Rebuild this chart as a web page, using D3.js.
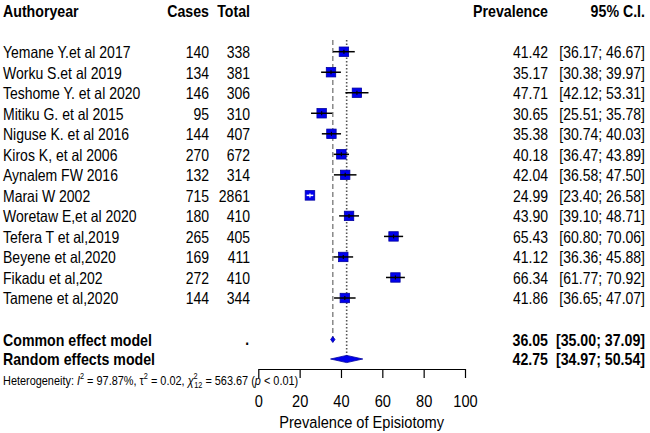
<!DOCTYPE html>
<html><head><meta charset="utf-8">
<script src="https://cdn.jsdelivr.net/npm/d3@7"></script>
<style>body{margin:0;background:#fff}svg{display:block}text{font-family:"Liberation Sans",Arial,sans-serif}</style>
</head><body><svg id="c" width="650" height="433"></svg>
<script>
const studies = ["Yemane Y.et al 2017","Worku S.et al 2019","Teshome Y. et al 2020","Mitiku G. et al 2015","Niguse K. et al 2016","Kiros K, et al 2006","Aynalem FW 2016","Marai W 2002","Woretaw E,et al 2020","Tefera T et al,2019","Beyene et al,2020","Fikadu et al,202","Tamene et al,2020"];
const cases = [140,134,146,95,144,270,132,715,180,265,169,272,144];
const totals = [338,381,306,310,407,672,314,2861,410,405,411,410,344];
const prev = [41.42,35.17,47.71,30.65,35.38,40.18,42.04,24.99,43.90,65.43,41.12,66.34,41.86];
const lower = [36.17,30.38,42.12,25.51,30.74,36.47,36.58,23.40,39.10,60.80,36.36,61.77,36.65];
const upper = [46.67,39.97,53.31,35.78,40.03,43.89,47.50,26.58,48.71,70.06,45.88,70.92,47.07];
const weights = [7.7,7.7,7.6,7.7,7.7,7.8,7.6,7.9,7.7,7.7,7.7,7.7,7.7];
const models = ["Common effect model","Random effects model"];
const modelEst = [36.05,42.75];
const modelLow = [35.00,34.97];
const modelUp = [37.09,50.54];
const ticks = [0,20,40,60,80,100];

const SX = 0.86; // narrow (Arial Narrow-like) text
const svg = d3.select("#c");
const x = d3.scaleLinear().domain([0,100]).range([258.3,465]);
const y = d3.scaleLinear().domain([0,12]).range([51.7,298]);
const ym = d3.scaleOrdinal().domain(models).range([339.5,359]);
const sz = d3.scaleSqrt().domain([0,8]).range([0,9.6]);
const f = d3.format(".2f");

function txt(parent, px, py, s, size, opts={}) {
  const t = parent.append("text").attr("transform",`translate(${px},${py}) scale(${SX},1)`)
    .attr("font-size",size).attr("fill","#000").text(s);
  if (opts.end) t.attr("text-anchor","end");
  if (opts.middle) t.attr("text-anchor","middle");
  if (opts.bold) t.attr("font-weight","bold");
  return t;
}

// headers
const hdr = svg.append("g");
txt(hdr,3,16.7,"Authoryear",16.5,{bold:1});
txt(hdr,209,16.7,"Cases",16.5,{bold:1,end:1});
txt(hdr,250,16.7,"Total",16.5,{bold:1,end:1});
txt(hdr,548,16.7,"Prevalence",16.5,{bold:1,end:1});
txt(hdr,645,16.7,"95% C.I.",16.5,{bold:1,end:1});

// rows
const rows = svg.append("g");
studies.forEach((s,i)=>{
  const yy = y(i)+6.3;
  txt(rows,3,yy,s,16.3);
  txt(rows,209,yy,cases[i],16.3,{end:1});
  txt(rows,250,yy,totals[i],16.3,{end:1});
  txt(rows,548,yy,f(prev[i]),16.3,{end:1});
  txt(rows,645,yy,"["+f(lower[i])+"; "+f(upper[i])+"]",16.3,{end:1});
});
const mg = svg.append("g");
models.forEach((m,i)=>{
  const yy = ym(m)+6.3;
  txt(mg,3,yy,m,16.5,{bold:1});
  txt(mg,548,yy,f(modelEst[i]),16.5,{bold:1,end:1});
  txt(mg,645,yy,"["+f(modelLow[i])+"; "+f(modelUp[i])+"]",16.5,{bold:1,end:1});
});
txt(svg,249,ym(models[0])+5,".",16,{bold:1,end:1});

// reference lines
svg.append("line").attr("x1",x(modelEst[0])).attr("x2",x(modelEst[0])).attr("y1",40).attr("y2",ym(models[0])-2)
  .attr("stroke","#777").attr("stroke-width",1.3).attr("stroke-dasharray","5,3");
svg.append("line").attr("x1",x(modelEst[1])).attr("x2",x(modelEst[1])).attr("y1",40).attr("y2",ym(models[1]))
  .attr("stroke","#555").attr("stroke-width",1.6).attr("stroke-dasharray","1.5,2");

// study markers
const mk = svg.append("g");
studies.forEach((s,i)=>{
  const cy = y(i), cx = x(prev[i]), w = sz(weights[i]);
  mk.append("rect").attr("x",cx-w/2).attr("y",cy-w/2).attr("width",w).attr("height",w)
    .attr("fill","#0000ee").attr("stroke","#0000a0").attr("stroke-width",0.8);
  const inside = (x(upper[i])-x(lower[i])) < w;
  const col = inside ? "#fff" : "#000";
  mk.append("line").attr("x1",x(lower[i])).attr("x2",x(upper[i])).attr("y1",cy).attr("y2",cy)
    .attr("stroke",col).attr("stroke-width",1.5);
  mk.append("line").attr("x1",cx).attr("x2",cx).attr("y1",cy-2).attr("y2",cy+2).attr("stroke",col).attr("stroke-width",1.2);
});

// diamonds
models.forEach((m,i)=>{
  const cy = ym(m), h = i===0 ? 3 : 3.6;
  const pts = [[x(modelLow[i]),cy],[x(modelEst[i]),cy-h],[x(modelUp[i]),cy],[x(modelEst[i]),cy+h]];
  svg.append("polygon").attr("points",pts.map(p=>p.join(",")).join(" "))
    .attr("fill","#0000ee").attr("stroke","#0000a0").attr("stroke-width",0.8);
});

// axis
const ax = svg.append("g").attr("transform","translate(0,369)")
  .call(d3.axisBottom(x).tickValues(ticks).tickSize(9).tickSizeOuter(0).tickPadding(0));
ax.attr("font-family",null);
ax.select(".domain").attr("stroke","#000").attr("stroke-width",1.2);
ax.selectAll(".tick line").attr("stroke","#000").attr("stroke-width",1.2);
ax.selectAll(".tick text").attr("font-size",17).attr("fill","#000").attr("dy",null).attr("y",0)
  .attr("transform",`translate(0,37.7) scale(${SX},1)`);
txt(svg,x(50),427.5,"Prevalence of Episiotomy",17,{middle:1});

// heterogeneity
const ht = svg.append("text").attr("transform",`translate(3,385) scale(${SX},1)`).attr("font-size",12.7).attr("fill","#000");
ht.append("tspan").text("Heterogeneity: ");
ht.append("tspan").attr("font-style","italic").text("I");
ht.append("tspan").attr("dy",-6).attr("font-size",8.5).text("2");
ht.append("tspan").attr("dy",6).text(" = 97.87%, τ");
ht.append("tspan").attr("dy",-6).attr("font-size",8.5).text("2");
ht.append("tspan").attr("dy",6).text(" = 0.02, ");
ht.append("tspan").attr("font-style","italic").text("χ");
ht.append("tspan").attr("dy",-6).attr("font-size",8.5).text("2");
ht.append("tspan").attr("dx",-4).attr("dy",9).attr("font-size",8.5).text("12");
ht.append("tspan").attr("dy",-3).text(" = 563.67 (");
ht.append("tspan").attr("font-style","italic").text("p");
ht.append("tspan").text(" < 0.01)");
</script></body></html>
